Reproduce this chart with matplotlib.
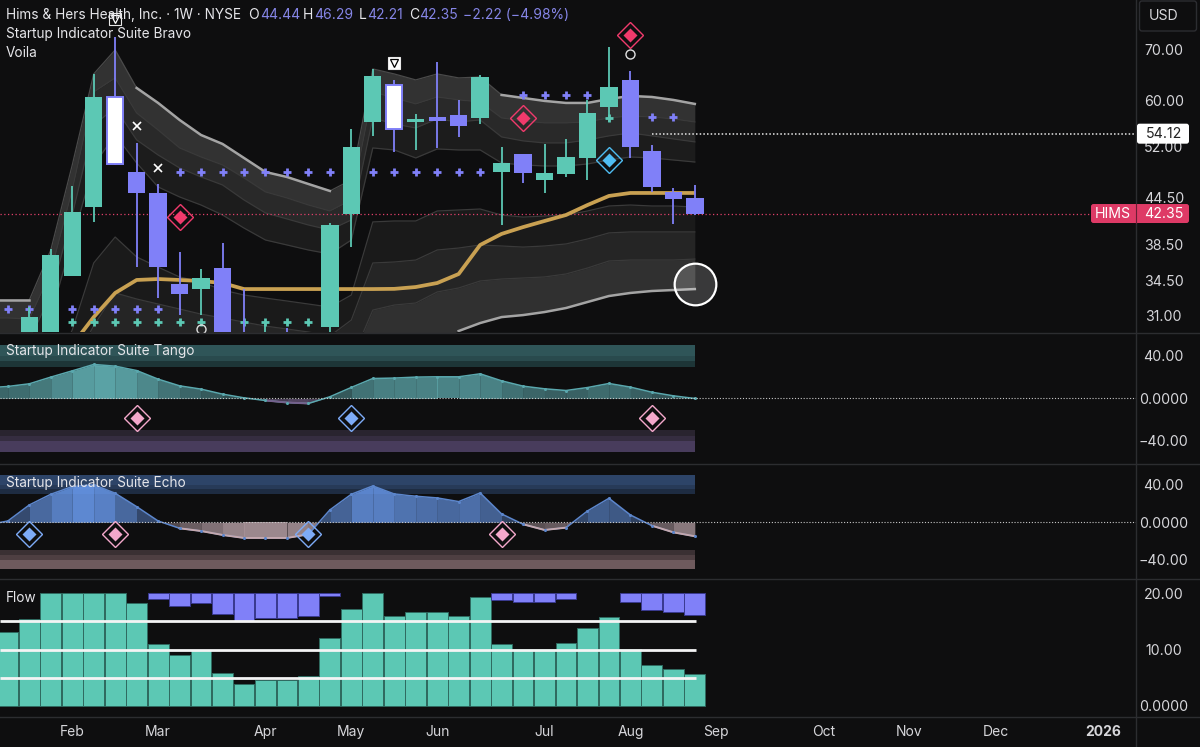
import numpy as np
import matplotlib
matplotlib.use("Agg")
import matplotlib.pyplot as plt
from matplotlib.patches import FancyBboxPatch
from matplotlib.transforms import IdentityTransform
from matplotlib.ticker import NullLocator, FixedLocator, FixedFormatter

plt.rcParams['font.family'] = ['Inter', 'DejaVu Sans']

# ---------- data ----------
opens  = [28.27,28.27,34.94,43.2,60.57,48.11,45.11,34.11,33.58,35.82,28.71,28.2,28.7,28.2,29.88,42.29,
          56.1,62.86,56.1,56.96,57.32,56.8,48.11,50.85,46.95,47.82,50.23,58.75,63.84,51.32,45.25,44.44]
highs  = [31.77,37.98,46.09,65.02,72.85,52.6,46.37,37.63,35.71,38.68,33.58,30.16,29.79,29.0,41.14,54.91,
          66.03,63.84,57.5,67.47,60.03,64.8,51.95,50.85,52.44,53.25,60.03,70.65,65.6,52.3,45.81,46.29]
lows   = [28.0,28.0,34.94,41.27,49.16,35.92,32.66,31.0,31.0,27.5,27.0,27.5,27.5,27.5,29.43,38.2,
          53.73,51.17,51.48,51.8,53.58,55.75,40.88,46.5,45.11,47.38,46.95,56.1,50.2,45.25,41.0,42.21]
closes = [30.8,37.28,42.55,60.57,49.31,45.11,35.92,33.07,34.74,27.84,27.84,28.7,28.2,28.7,40.88,51.95,
          64.62,54.91,56.62,56.28,55.41,64.42,49.46,47.96,47.96,50.38,57.67,62.47,51.95,45.95,44.3,42.35]
white_candles = [4, 17]

# band edges, weeks -2 .. 31
upper1 = [32.47,32.47,32.47,37.86,49.16,65.02,70.0,62.28,59.48,56.45,53.9,52.44,50.23,48.11,47.38,46.37,45.39,46.95,
          66.03,65.02,63.84,65.02,64.23,64.42,60.96,60.4,59.85,59.48,59.48,60.21,60.77,60.58,60.03,59.3]
upper2 = [30.72,30.72,30.63,35.38,45.53,61.52,64.23,57.67,54.74,51.8,50.38,49.16,47.24,45.25,44.42,43.47,42.68,44.15,
          61.52,60.4,59.3,60.58,60.03,59.66,56.8,56.28,55.93,55.93,56.1,56.8,57.14,56.96,56.62,56.1]
upper3 = [28.71,28.71,28.71,32.97,42.15,55.59,58.57,53.09,50.69,48.71,47.38,46.23,44.15,42.42,41.65,40.88,40.26,41.52,
          56.8,55.75,55.08,56.62,56.1,56.45,53.58,52.93,52.6,52.6,53.09,53.75,54.24,53.75,53.25,52.77]
upper4 = [26.98,26.98,26.98,31.0,39.04,49.16,53.9,49.46,45.95,44.56,43.47,42.16,40.5,39.04,38.45,37.86,37.4,39.04,
          51.8,51.48,50.23,51.64,51.48,51.48,49.46,49.16,49.01,49.01,49.31,49.92,50.38,50.23,49.92,49.61]
lower1 = [23.87,23.87,23.87,25.79,29.61,36.38,39.4,37.06,35.92,34.85,34.32,33.48,32.97,32.66,32.37,32.07,31.77,32.97,
          41.27,41.39,41.39,42.68,42.81,42.94,42.15,41.89,42.02,42.15,42.68,43.34,43.47,43.34,43.34,43.2]
lower2 = [21.77,21.77,21.77,21.77,26.58,30.0,33.18,32.57,32.07,31.58,31.09,30.72,30.34,29.97,29.7,29.43,29.07,30.53,
          36.38,36.49,36.71,37.86,38.09,38.45,38.33,38.2,38.33,38.57,39.16,39.9,40.02,40.02,40.02,40.02]
lower3 = [20.0,20.0,20.0,20.0,20.0,25.0,27.5,27.0,27.0,27.0,27.0,27.0,27.0,27.0,27.0,27.0,26.5,26.98,
          31.48,31.97,32.17,33.28,33.69,34.42,34.63,34.74,34.85,35.17,35.82,36.6,36.71,36.71,36.71,36.82]
lower4 = [20.0,20.0,20.0,20.0,20.0,20.0,20.0,20.0,20.0,20.0,20.0,20.0,20.0,20.0,20.0,20.0,20.0,25.0,
          26.5,27.0,27.5,28.71,29.52,30.25,30.81,31.0,31.29,31.68,32.27,32.87,33.18,33.38,33.48,33.58]
average = [22.0,22.0,23.0,24.5,28.27,30.81,33.18,34.53,34.63,34.53,34.42,34.21,33.58,33.58,33.58,33.58,33.58,33.58,
           33.58,33.6,33.79,34.21,35.17,38.45,39.78,40.62,41.39,42.16,43.47,44.7,45.11,45.11,45.11,45.11]

plus_purple = {48.11: [7,8,9,10,11,12,13,14,16,17,18,19,20,21],
               60.96: [23,24,25,26],
               56.96: [29,30],
               31.58: [-1,0,2,3,4,5,6]}
plus_green = {56.8: [27],
              30.34: [2,3,4,5,6,7,8,10,11,12,13]}
x_marks = [(5,55.41),(6,48.71)]
open_circles = [(28,69.13),(8,29.7)]
icons = [(4,77.0,False),(17,67.26,True)]
red_diamonds = [(7,41.9),(23,56.8),(28,73.3)]
blue_diamonds = [(27,49.92)]

tango = [10.0,11.3,13.8,20.1,26.0,32.0,30.4,26.3,18.2,11.9,8.8,4.1,0.6,-1.9,-3.8,-4.7,1.6,10.4,18.8,19.2,20.1,20.4,
         20.4,23.2,16.6,11.6,9.1,7.5,10.3,14.1,10.7,5.9,2.5,0.0]
echo = [-3.0,1.4,18.5,29.9,38.1,40.0,31.0,16.7,1.4,-6.4,-9.3,-13.5,-16.7,-16.7,-16.7,-12.8,13.2,29.9,38.8,30.2,27.8,
        26.0,22.1,31.3,8.9,-2.1,-8.2,-5.7,12.1,25.6,7.8,-3.6,-10.7,-14.9]
tango_marks = [(5,-18,'p'),(15,-18,'b'),(29,-18,'p')]
echo_marks = [(0,-12.8,'b'),(4,-12.8,'p'),(13,-12.8,'b'),(22,-12.8,'p')]

flow_up = [13.06,15.5,20,20,20,20,18.2,11,9,9.9,5.9,3.9,4.6,4.6,5.2,12.1,17.2,20,16,16.7,16.6,16,19.3,10.9,10.1,10.1,
           11.1,13.9,15.7,10.1,7.2,6.5,5.6]
flow_down = {6:1.07,7:2.2,8:1.66,9:3.68,10:4.87,11:4.4,12:4.4,13:4.1,14:0.42,22:1.13,23:1.48,24:1.54,25:0.95,
             28:1.48,29:2.97,30:3.38,31:3.86}
flow_levels = [15,10,5]

price_ticks = [70,60,52,44.5,38.5,34.5,31]
price_labels = ['70.00','60.00','52.00','44.50','38.50','34.50','31.00']
month_pos = [2,6,11,15,19,24,28,32,37,41,45,50]
month_labels = ['Feb','Mar','Apr','May','Jun','Jul','Aug','Sep','Oct','Nov','Dec','2026']

# ---------- style / layout ----------
BG='#0e0e0f'; GREEN='#5cc8b4'; PURPLE='#8080f8'; TXT='#d6d6da'; SEP='#2c2d30'
W,H=1200,747
X0,X1=-1.365,51.55
fig=plt.figure(figsize=(W/100,H/100),dpi=100,facecolor=BG)

def pane(top,bottom):
    ax=fig.add_axes([0,1-bottom/H,1136/W,(bottom-top)/H],facecolor=BG)
    ax.set_xlim(X0,X1)
    for s in ax.spines.values():
        s.set_visible(False)
    ax.yaxis.tick_right()
    ax.tick_params(axis='y',length=0,pad=20,labelcolor=TXT,labelsize=10.2)
    ax.tick_params(axis='x',length=0,labelbottom=False)
    ax.xaxis.set_major_locator(NullLocator())
    return ax

def set_y(ax,ticks,labels):
    ax.yaxis.set_major_locator(FixedLocator(ticks))
    ax.yaxis.set_major_formatter(FixedFormatter(labels))
    ax.yaxis.set_minor_locator(NullLocator())
    for t in ax.get_yticklabels():
        t.set_ha('center')

def px_text(x,y,s,color='#e6e6ea',size=10.2,ha='left',weight='normal',z=10):
    fig.text(x/W,1-y/H,s,color=color,fontsize=size,ha=ha,va='center',fontweight=weight,zorder=z)

def diamond(ax,x,y,col,z=8):
    ax.plot([x],[y],marker='D',ms=7.2,mfc=col,mec='none',ls='none',zorder=z,clip_on=False)
    ax.plot([x],[y],marker='D',ms=13.2,mfc='none',mec=col,mew=1.0,ls='none',zorder=z,clip_on=False)

# ---------- main ----------
ax=pane(0,332)
ax.set_yscale('log')
ax.set_ylim(29.43,81.6)
set_y(ax,price_ticks,price_labels)
wk=np.arange(-2,32)
for a,b,c in [(upper1,upper2,'#323232'),(upper2,upper3,'#292929'),(upper3,upper4,'#1c1c1c'),
              (lower1,lower2,'#1a1a1a'),(lower2,lower3,'#252525'),(lower3,lower4,'#303030')]:
    ax.fill_between(wk,a,b,color=c,lw=0,zorder=1)
for e in [upper2,upper3,upper4,lower1,lower2,lower3]:
    ax.plot(wk,e,color='#3a3a3a',lw=0.9,zorder=2)
ax.plot(wk,upper1,color='#4a4a4a',lw=0.9,zorder=2)
u=np.array(upper1); l=np.array(lower4)
ax.plot(wk[:3],u[:3],color='#a4a4a4',lw=1.8,zorder=3)
ax.plot(wk[7:17],u[7:17],color='#a4a4a4',lw=1.8,zorder=3)
ax.plot(wk[24:],u[24:],color='#a4a4a4',lw=1.8,zorder=3)
ax.plot(wk[22:],l[22:],color='#a4a4a4',lw=1.8,zorder=3)

ax.axhline(42.35,xmax=1091/1136,color='#e0406a',lw=0.9,ls=(0,(1,2)),zorder=2.5)
ax.hlines(54.12,29,X1,color='#e8e8e8',lw=1.1,ls=(0,(1,1.4)),zorder=2.5)

ax.plot(wk,average,color='#c9a152',lw=2.7,zorder=4,solid_capstyle='butt')

for pr,idx in plus_purple.items():
    ax.plot(idx,[pr]*len(idx),'+',color=PURPLE,ms=6,mew=2.0,zorder=4.5)
for pr,idx in plus_green.items():
    ax.plot(idx,[pr]*len(idx),'+',color=GREEN,ms=6,mew=2.0,zorder=4.5)

for i,(o,h,lo,c) in enumerate(zip(opens,highs,lows,closes)):
    col=GREEN if c>=o else PURPLE
    ax.vlines(i,lo,h,color=col,lw=1.3,zorder=5)
    top,bot=max(o,c),min(o,c)
    if i in white_candles:
        ax.bar(i,top-bot,bottom=bot,width=0.74,color='white',edgecolor=PURPLE,lw=1.4,zorder=6)
    else:
        ax.bar(i,top-bot,bottom=bot,width=0.81,color=col,lw=0,zorder=6)

for x,y in x_marks:
    ax.plot([x],[y],'x',color='white',ms=6,mew=1.2,zorder=7)
for x,y in open_circles:
    ax.plot([x],[y],'o',mfc='none',mec='#e0e0e0',ms=6.5,mew=1,zorder=7)
for x,y,filled in icons:
    ax.plot([x],[y],'s',ms=8.4,mfc='white' if filled else 'none',mec='#e8e8e8',mew=0.8,zorder=8)
    ax.plot([x],[y],'v',ms=5.2,mfc='none',mec='black' if filled else 'white',mew=0.9,zorder=8.1)
for x,y in red_diamonds:
    diamond(ax,x,y,'#f03a6c')
for x,y in blue_diamonds:
    diamond(ax,x,y,'#4fbdf2')
ax.plot([31],[34.11],'o',ms=30,mfc=(1,1,1,0.18),mec='white',mew=1.6,zorder=9,clip_on=False)

# ---------- oscillators ----------
def osc(ax,vals,pos,neg,pline,nline,alpha_base,alpha_max,vmax,nvmax):
    x=np.arange(-2,32); v=np.array(vals,float)
    for k in range(len(x)-1):
        a,b=v[k],v[k+1]
        m=(abs(a)+abs(b))/2
        up=alpha_base+alpha_max*min(1,m/vmax)
        dn=alpha_base+alpha_max*min(1,m/nvmax)
        if a*b<0:
            xc=x[k]+a/(a-b)
            ax.fill_between([x[k],xc],[a,0],0,color=pos if a>0 else neg,alpha=up if a>0 else dn,lw=0,zorder=2)
            ax.fill_between([xc,x[k+1]],[0,b],0,color=pos if b>0 else neg,alpha=up if b>0 else dn,lw=0,zorder=2)
        else:
            p=(a+b)>=0
            ax.fill_between([x[k],x[k+1]],[a,b],0,color=pos if p else neg,alpha=up if p else dn,lw=0,zorder=2)
    nv=np.where(v<=0,v,np.nan)
    ax.plot(x,v,color=pline,lw=1.1,zorder=3)
    ax.plot(x,nv,color=nline,lw=1.4,zorder=3.5)
    ax.plot(x,v,ls='none',marker='o',ms=1.2,color=pline,zorder=3.6)
    ax.axhline(0,color='#c8c8c8',lw=0.8,ls=(0,(1,1.6)),zorder=4)

def bands(ax,spec):
    for a,b,c in spec:
        ax.fill_between([X0,31],a,b,color=c,lw=0,zorder=1)

ax2=pane(333,463)
ax2.set_ylim(-60.7,61.6)
set_y(ax2,[40,0,-40],['40.00','0.0000','\u221240.00'])
bands(ax2,[(40,50,'#2f5558'),(35,40,'#294a4d'),(30,35,'#1d3537'),
           (-35,-30,'#29242f'),(-40,-35,'#352d40'),(-50,-40,'#483c5c')])
osc(ax2,tango,'#66b8bc','#7a6590','#5aa8ae','#75608c',0.34,0.55,32,8)
for x,y,k in tango_marks:
    diamond(ax2,x,y,'#f4a8cb' if k=='p' else '#7dabf7')

ax3=pane(465,578)
ax3.set_ylim(-59.4,61.1)
set_y(ax3,[40,0,-40],['40.00','0.0000','\u221240.00'])
bands(ax3,[(40,50,'#2d4468'),(35,40,'#273a58'),(30,35,'#1e2c42'),
           (-35,-30,'#3a3033'),(-40,-35,'#4e3f42'),(-50,-40,'#6e5a5d')])
osc(ax3,echo,'#6a9cf0','#b09aa0','#5c86cc','#c4a8ae',0.28,0.6,40,16)
for x,y,k in echo_marks:
    diamond(ax3,x,y,'#f4a8cb' if k=='p' else '#7dabf7')

# ---------- flow ----------
ax4=pane(580,716)
ax4.set_ylim(-1.83,22.37)
set_y(ax4,[20,10,0],['20.00','10.00','0.0000'])
ax4.bar(np.arange(-1,32),flow_up,width=0.97,color=GREEN,edgecolor='#2f6a60',lw=0.7,zorder=2)
dk=list(flow_down.keys())
ax4.bar(dk,[-flow_down[k] for k in dk],bottom=20,width=0.97,color=PURPLE,edgecolor='#3a3a90',lw=0.7,zorder=2)
for lv in flow_levels:
    ax4.hlines(lv,X0,31.06,color='#f4f4f4',lw=2.0,zorder=3)

# ---------- x axis text ----------
ax4.xaxis.set_major_locator(FixedLocator(month_pos))
ax4.xaxis.set_major_formatter(FixedFormatter(month_labels))
ax4.tick_params(axis='x',labelbottom=True,labelcolor=TXT,labelsize=10,pad=6.5)
for t in ax4.get_xticklabels():
    if t.get_text()=='2026':
        t.set_fontweight('bold')

# ---------- pane separators across the full width ----------
for yy in [332.5,464,579,716.5]:
    fig.add_artist(plt.Line2D([0,W],[H-yy,H-yy],color=SEP,lw=1.0,transform=IdentityTransform(),zorder=5))
fig.add_artist(plt.Line2D([1136,1136],[0,H],color=SEP,lw=1.0,transform=IdentityTransform(),zorder=5))

# ---------- title text ----------
MUTED='#8585e6'
px_text(6,15,'Hims & Hers Health, Inc. \u00b7 1W \u00b7 NYSE',size=9.82)
for x,s,c in [(248,'O','#e6e6ea'),(260,'44.44',MUTED),(303,'H','#e6e6ea'),(314,'46.29',MUTED),
              (359,'L','#e6e6ea'),(367,'42.21',MUTED),(409,'C','#e6e6ea'),(419,'42.35',MUTED),
              (463,'\u22122.22 (\u22124.98%)',MUTED)]:
    px_text(x,15,s,color=c,size=10)
px_text(6,34,'Startup Indicator Suite Bravo',size=9.8)
px_text(6,53,'Voila',size=9.8)
px_text(6,351,'Startup Indicator Suite Tango',size=9.8)
px_text(6,483,'Startup Indicator Suite Echo',size=9.8)
px_text(6,598,'Flow',size=9.8)

# ---------- axis badges (pixel space) ----------
def badge(x,yc,w,h,fc,ec='none'):
    fig.add_artist(FancyBboxPatch((x,H-yc-h/2),w,h,boxstyle='round,pad=0,rounding_size=2.5',
                                  fc=fc,ec=ec,lw=1,transform=IdentityTransform(),zorder=6))
y_ref=ax.transData.transform((0,54.12))[1]; yw=H-y_ref
y_cur=ax.transData.transform((0,42.35))[1]; yc=H-y_cur
badge(1137,yw,52,20,'white')
px_text(1164,yw,'54.12',color='#222222',ha='center')
badge(1091,yc,98,19,'#de3a66')
px_text(1113,yc,'HIMS',color='white',ha='center')
px_text(1164,yc,'42.35',color='white',ha='center')
fig.add_artist(plt.Line2D([1136,1136],[H-yc-9.5,H-yc+9.5],color='#6a1f35',lw=0.8,transform=IdentityTransform(),zorder=7))
badge(1139.5,16,57,30,BG,'#2c2d31')
px_text(1164,16,'USD',color=TXT,ha='center')

fig.savefig('out.png',dpi=100,facecolor=BG)
